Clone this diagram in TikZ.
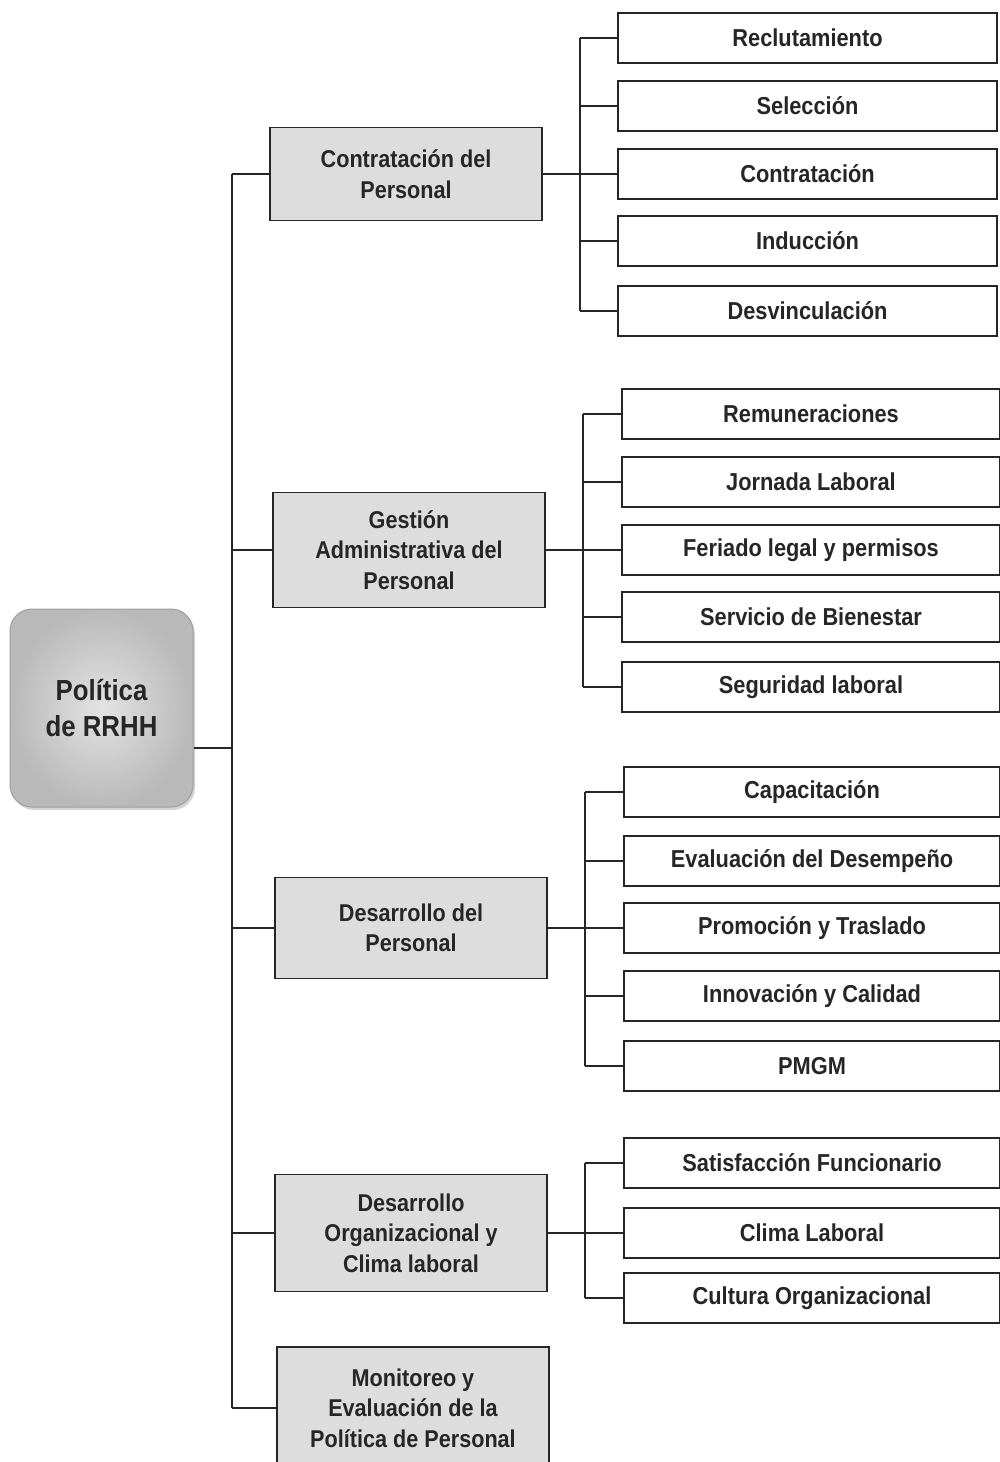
\documentclass[tikz,border=0pt]{standalone}
\usepackage{fontspec}
\setmainfont{Liberation Sans}[FakeStretch=0.89]
\usetikzlibrary{shadows}

\tikzset{
	raiz/.style={draw=gray!75, line width=1pt, rounded corners=22pt,
		inner color=gray!22, outer color=gray!55,
		drop shadow={opacity=0.35, shadow xshift=2pt, shadow yshift=-3pt},
		minimum width=183pt, minimum height=198pt, align=center,
		text=black!85, font=\fontsize{29}{36}\selectfont\bfseries},
	area/.style={draw=black!85, line width=1.4pt, fill=gray!27,
		minimum width=272pt, align=center, text=black!85,
		font=\fontsize{24.3}{30.5}\selectfont\bfseries},
	tarea/.style={draw=black!85, line width=1.6pt, fill=white,
		minimum height=50pt, align=center, text=black!85,
		font=\fontsize{24.5}{28}\selectfont\bfseries},
	linea/.style={line width=1.3pt, black!85}
}

\begin{document}
\begin{tikzpicture}[x=1pt,y=-1pt]
	\useasboundingbox (0,0) rectangle (999,1462);

	\node[raiz] (raiz) at (101.5,708) {Política\\de RRHH};

	\node[area, minimum height=93pt]  (a1) at (406,174)  {Contratación del\\Personal};
	\node[area, minimum height=115pt] (a2) at (409,550)  {Gestión\\Administrativa del\\Personal};
	\node[area, minimum height=101pt] (a3) at (411,928)  {Desarrollo del\\Personal};
	\node[area, minimum height=117pt] (a4) at (411,1233) {Desarrollo\\Organizacional y\\Clima laboral};
	\node[area, minimum height=122pt] (a5) at (413,1408) {Monitoreo y\\Evaluación de la\\Política de Personal};

	% tareas de cada area
	\foreach \y/\txt [count=\i] in {38/Reclutamiento, 106/Selección, 174/Contratación,
		241/Inducción, 311/Desvinculación}
		\node[tarea, minimum width=379pt] (s1-\i) at (807.5,\y) {\txt};
	\foreach \y/\txt [count=\i] in {414/Remuneraciones, 482/Jornada Laboral,
		550/Feriado legal y permisos, 617/Servicio de Bienestar, 687/Seguridad laboral}
		\node[tarea, minimum width=378pt] (s2-\i) at (811,\y) {\txt};
	\foreach \y/\txt [count=\i] in {792/Capacitación, 861/Evaluación del Desempeño,
		928/Promoción y Traslado, 996/Innovación y Calidad, 1066/PMGM}
		\node[tarea, minimum width=376pt] (s3-\i) at (812,\y) {\txt};
	\foreach \y/\txt [count=\i] in {1163/Satisfacción Funcionario, 1233/Clima Laboral,
		1298/Cultura Organizacional}
		\node[tarea, minimum width=376pt] (s4-\i) at (812,\y) {\txt};

	% tronco
	\coordinate (tronco) at (232,748);
	\draw[linea] (raiz.east |- tronco) -- (tronco);
	\draw[linea] (tronco |- a1.west) -- (tronco |- a5.west);
	\foreach \k in {1,...,5}
		\draw[linea] (tronco |- a\k.west) -- (a\k.west);

	% ramas
	\coordinate (bus1) at (580,0);
	\coordinate (bus2) at (583,0);
	\coordinate (bus3) at (585,0);
	\coordinate (bus4) at (585,0);
	\foreach \g/\n/\m in {1/5/3, 2/5/3, 3/5/3, 4/3/2}{
		\draw[linea] (a\g.east) -- (a\g.east -| s\g-\m.west);
		\draw[linea] (bus\g |- s\g-1.west) -- (bus\g |- s\g-\n.west);
		\foreach \i in {1,...,\n}
			\draw[linea] (bus\g |- s\g-\i.west) -- (s\g-\i.west);
	}
\end{tikzpicture}
\end{document}
